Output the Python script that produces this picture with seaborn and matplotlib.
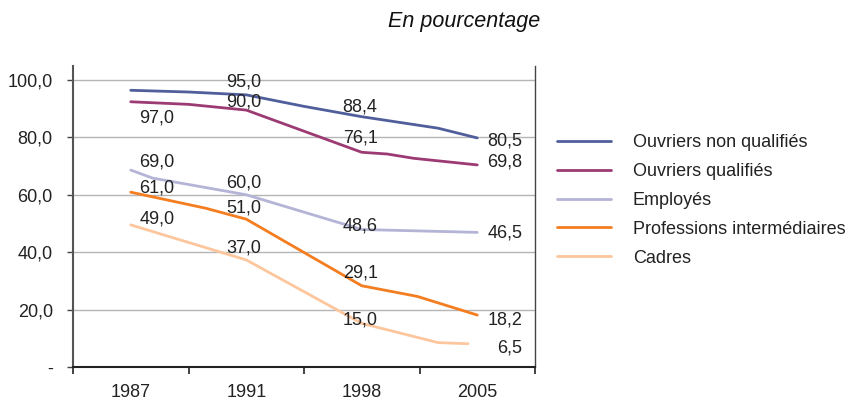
import pandas as pd
import matplotlib
matplotlib.use("Agg")
import matplotlib.pyplot as plt
from matplotlib.lines import Line2D
import seaborn as sns

# ---------------- DATA ----------------
years = ["1987", "1991", "1998", "2005"]
series = ["Ouvriers non qualifiés", "Ouvriers qualifiés", "Employés",
          "Professions intermédiaires", "Cadres"]
colors = ["#505e9c", "#9c3a73", "#b4b4d6", "#f47d20", "#fdc69c"]

# traced curves (x in category units: 0.5 = 1987 ... 3.5 = 2005)
onq_x = [0.5, 1.0, 1.5, 2.0, 2.5, 3.16, 3.5]
onq_y = [96.4, 95.8, 94.8, 90.8, 87.2, 83.2, 79.8]
oq_x = [0.5, 1.0, 1.5, 2.5, 2.72, 2.95, 3.5]
oq_y = [92.4, 91.5, 89.5, 74.8, 74.2, 72.7, 70.4]
emp_x = [0.5, 0.69, 1.5, 2.5, 3.5]
emp_y = [68.6, 65.8, 60.0, 47.9, 46.9]
pi_x = [0.5, 1.15, 1.5, 2.5, 2.98, 3.5]
pi_y = [60.9, 55.3, 51.5, 28.3, 24.6, 18.1]
cad_x = [0.5, 1.0, 1.5, 2.5, 3.16, 3.42]
cad_y = [49.5, 43.4, 37.3, 15.2, 8.5, 8.1]

# printed values (one per series, None = no label)
lab_1987 = [97.0, None, 69.0, 61.0, 49.0]
lab_1991 = [95.0, 90.0, 60.0, 51.0, 37.0]
lab_1998 = [88.4, 76.1, 48.6, 29.1, 15.0]
lab_2005 = [80.5, 69.8, 46.5, 18.2, 6.5]

# vertical nudges of the printed values (data units)
nudge_1987 = [-10.2, 0, 2.5, 1.3, 2.5]
nudge_1991 = [4.3, 2.4, 4.2, 4.3, 4.6]
nudge_1998 = [2.3, 3.6, 0.6, 3.5, 1.4]
nudge_2005 = [-1.8, 1.7, 0.1, -1.8, 0.0]

frames = []
for name, xs, ys in zip(series, [onq_x, oq_x, emp_x, pi_x, cad_x],
                        [onq_y, oq_y, emp_y, pi_y, cad_y]):
    frames.append(pd.DataFrame({"pos": xs, "val": ys, "serie": name}))
df = pd.concat(frames, ignore_index=True)

# ---------------- PLOT ----------------
sns.set_theme(style="white")
plt.rcParams["font.family"] = ["Liberation Sans", "DejaVu Sans"]
TXT = "#222222"

fig = plt.figure(figsize=(8.51, 4.0), dpi=100)
ax = fig.add_axes([73 / 851, 1 - 367 / 400, (535 - 73) / 851, (367 - 65.6) / 400])

sns.lineplot(data=df, x="pos", y="val", hue="serie", hue_order=series,
             palette=colors, sort=False, estimator=None, linewidth=2.0,
             legend=False, ax=ax)

ax.set_xlim(0, 4)
ax.set_ylim(0, 105)
ax.set_xlabel("")
ax.set_ylabel("")

# y axis
ax.set_yticks([0, 20, 40, 60, 80, 100])
ax.set_yticklabels(["-", "20,0", "40,0", "60,0", "80,0", "100,0"])
for yv in [20, 40, 60, 80, 100]:
    ax.axhline(yv, color="#b5b5b5", lw=1.0, zorder=0)
ax.tick_params(axis="y", direction="out", length=4.5, width=1.0,
               color="#444444", pad=10, labelsize=13, labelcolor=TXT, left=True)

# x axis: ticks at band edges, labels at band centres
ax.set_xticks([0, 1, 2, 3, 4])
ax.set_xticklabels([])
ax.set_xticks([0.5, 1.5, 2.5, 3.5], minor=True)
ax.set_xticklabels(years, minor=True)
ax.tick_params(axis="x", which="major", direction="out", length=5, width=1.2,
               color="#222222", bottom=True)
ax.tick_params(axis="x", which="minor", length=0, pad=12, labelsize=13,
               labelcolor=TXT)

for side in ["left", "bottom", "right"]:
    ax.spines[side].set_visible(True)
ax.spines["top"].set_visible(False)
ax.spines["left"].set_color("#555555")
ax.spines["left"].set_linewidth(1.5)
ax.spines["bottom"].set_color("#222222")
ax.spines["bottom"].set_linewidth(1.5)
ax.spines["right"].set_color("#444444")
ax.spines["right"].set_linewidth(1.0)

# printed values
for labs, nud, xpos, ha in [(lab_1987, nudge_1987, 0.575, "left"),
                            (lab_1991, nudge_1991, 1.48, "center"),
                            (lab_1998, nudge_1998, 2.486, "center"),
                            (lab_2005, nudge_2005, 3.89, "right")]:
    for v, n in zip(labs, nud):
        if v is None:
            continue
        ax.text(xpos, v + n, f"{v:.1f}".replace(".", ","), ha=ha, va="center",
                fontsize=13, color=TXT, zorder=5)

# title
fig.text(540 / 851, 1 - 21 / 400, "En pourcentage", ha="right", va="center",
         fontsize=15.5, style="italic", color="#111111")

# legend
handles = [Line2D([0], [0], color=c, lw=2.0) for c in colors]
fig.legend(handles, series, loc="upper left",
           bbox_to_anchor=(557 / 851, 1 - 134 / 400), frameon=False,
           fontsize=13, handlelength=3.0, handletextpad=1.2,
           labelspacing=0.66, borderpad=0, borderaxespad=0, labelcolor=TXT)

fig.savefig("out.png", dpi=100)
plt.close(fig)
